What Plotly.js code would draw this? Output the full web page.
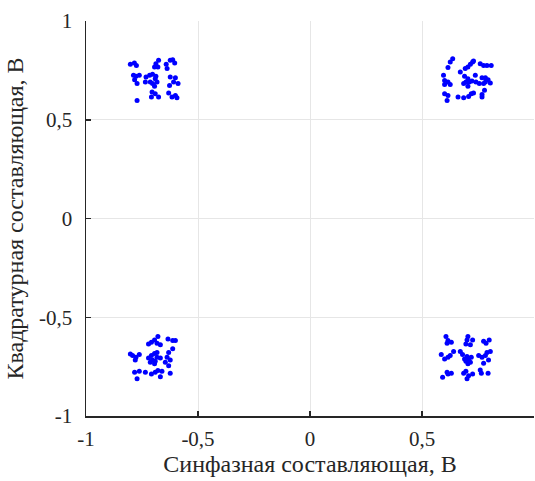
<!DOCTYPE html>
<html>
<head>
<meta charset="utf-8">
<script src="https://cdn.plot.ly/plotly-3.0.1.min.js"></script>
<style>html,body{margin:0;padding:0;background:#fff;}#chart{width:535px;height:481px;}</style>
</head>
<body>
<div id="chart"></div>
<script>
// Cluster (top-left) I/Q samples
var tlX = [-0.802,-0.784,-0.775,-0.676,-0.688,-0.694,-0.679,-0.642,-0.624,-0.613,-0.604,-0.638,-0.788,-0.777,-0.762,-0.783,-0.772,-0.732,-0.716,-0.703,-0.688,-0.691,-0.735,-0.713,-0.703,-0.694,-0.683,-0.624,-0.601,-0.627,-0.589,-0.609,-0.705,-0.691,-0.708,-0.676,-0.631,-0.616,-0.601,-0.594,-0.772];
var tlY = [0.781,0.787,0.775,0.801,0.784,0.767,0.767,0.781,0.801,0.804,0.787,0.759,0.725,0.720,0.725,0.703,0.683,0.716,0.725,0.730,0.720,0.708,0.691,0.691,0.683,0.669,0.691,0.716,0.713,0.674,0.683,0.691,0.640,0.632,0.615,0.615,0.635,0.615,0.623,0.612,0.598];
// Cluster (top-right)
var trX = [0.637,0.626,0.616,0.671,0.693,0.705,0.716,0.726,0.730,0.760,0.775,0.790,0.809,0.596,0.601,0.616,0.626,0.601,0.690,0.705,0.696,0.711,0.686,0.723,0.738,0.741,0.768,0.783,0.795,0.783,0.775,0.805,0.756,0.705,0.601,0.616,0.612,0.661,0.686,0.708,0.720,0.730,0.768,0.779,0.768];
var trY = [0.809,0.792,0.764,0.742,0.759,0.767,0.781,0.792,0.797,0.784,0.775,0.775,0.775,0.725,0.699,0.691,0.679,0.679,0.720,0.708,0.691,0.691,0.683,0.696,0.725,0.691,0.713,0.713,0.703,0.691,0.683,0.686,0.683,0.669,0.632,0.623,0.598,0.615,0.612,0.618,0.632,0.635,0.628,0.649,0.615];
// Cluster (bottom-left)
var blX = [-0.721,-0.708,-0.694,-0.679,-0.683,-0.668,-0.634,-0.613,-0.601,-0.613,-0.631,-0.802,-0.792,-0.777,-0.762,-0.780,-0.721,-0.708,-0.694,-0.683,-0.703,-0.691,-0.713,-0.683,-0.694,-0.668,-0.638,-0.624,-0.646,-0.631,-0.783,-0.762,-0.772,-0.735,-0.708,-0.691,-0.679,-0.661,-0.668,-0.624];
var blY = [-0.635,-0.627,-0.615,-0.598,-0.632,-0.639,-0.610,-0.618,-0.618,-0.660,-0.678,-0.686,-0.694,-0.703,-0.689,-0.716,-0.706,-0.694,-0.683,-0.678,-0.716,-0.723,-0.728,-0.703,-0.736,-0.706,-0.703,-0.716,-0.728,-0.745,-0.779,-0.774,-0.812,-0.779,-0.787,-0.779,-0.770,-0.774,-0.801,-0.784];
// Cluster (bottom-right)
var brX = [0.607,0.616,0.612,0.631,0.705,0.701,0.696,0.716,0.726,0.775,0.786,0.800,0.586,0.601,0.616,0.626,0.641,0.671,0.681,0.690,0.701,0.708,0.696,0.716,0.705,0.720,0.753,0.768,0.783,0.790,0.805,0.775,0.797,0.592,0.612,0.631,0.616,0.686,0.696,0.708,0.701,0.726,0.760,0.765,0.795];
var brY = [-0.598,-0.618,-0.632,-0.627,-0.598,-0.615,-0.635,-0.639,-0.615,-0.622,-0.632,-0.615,-0.689,-0.711,-0.703,-0.694,-0.673,-0.673,-0.689,-0.711,-0.699,-0.716,-0.723,-0.728,-0.736,-0.703,-0.694,-0.703,-0.694,-0.678,-0.673,-0.733,-0.716,-0.804,-0.779,-0.784,-0.787,-0.784,-0.774,-0.796,-0.812,-0.787,-0.767,-0.784,-0.784];

var tickVals = [-1, -0.5, 0, 0.5, 1];
var tickText = ['-1', '-0,5', '0', '0,5', '1'];
var xTitle = 'Синфазная составляющая, В';
var yTitle = 'Квадратурная составляющая, В';

var xs = [].concat(tlX, trX, blX, brX);
var ys = [].concat(tlY, trY, blY, brY);

var trace = {
  x: xs, y: ys, type: 'scatter', mode: 'markers',
  marker: {color: '#0000ff', size: 5, line: {width: 0}},
  hoverinfo: 'none', showlegend: false
};

var fontFam = 'Liberation Serif, Times New Roman, Times, DejaVu Serif, serif';
var axisCommon = {
  range: [-1, 1], tickmode: 'array', tickvals: tickVals, ticktext: tickText,
  showgrid: true, gridcolor: '#e6e6e6', gridwidth: 1,
  zeroline: false, showline: true, linecolor: '#262626', linewidth: 1.5,
  ticks: 'inside', ticklen: 5, tickwidth: 1.5, tickcolor: '#262626',
  tickfont: {family: fontFam, size: 21, color: '#262626'},
  mirror: false, fixedrange: true
};

var layout = {
  width: 535, height: 481,
  margin: {l: 86, r: 1, t: 21, b: 65, pad: 0},
  paper_bgcolor: '#ffffff', plot_bgcolor: '#ffffff',
  font: {family: fontFam, color: '#262626'},
  xaxis: Object.assign({}, axisCommon, {
    title: {text: xTitle, font: {family: fontFam, size: 24, color: '#262626'}, standoff: 4},
    ticklabelstandoff: 3
  }),
  yaxis: Object.assign({}, axisCommon, {
    title: {text: yTitle, font: {family: fontFam, size: 24, color: '#262626'}, standoff: 8},
    ticklabelstandoff: 8
  })
};

Plotly.newPlot('chart', [trace], layout, {displayModeBar: false, staticPlot: true});
</script>
</body>
</html>
